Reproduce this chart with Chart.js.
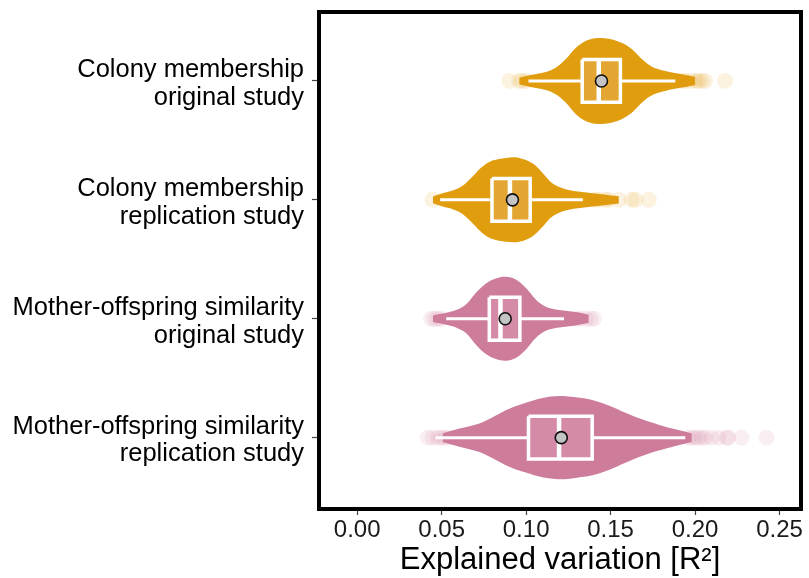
<!DOCTYPE html>
<html>
<head>
<meta charset="utf-8">
<script src="https://cdn.jsdelivr.net/npm/chart.js@4.4.1/dist/chart.umd.min.js"></script>
<style>
  html, body { margin: 0; padding: 0; background: #fff; }
  #wrap { width: 809px; height: 578px; }
</style>
</head>
<body>
<div id="wrap"><canvas id="violinChart" width="809" height="578"></canvas></div>
<script>
// Categories (top to bottom) and their positions on the y scale
const categories = [
    ["Colony membership", "original study"],
    ["Colony membership", "replication study"],
    ["Mother-offspring similarity", "original study"],
    ["Mother-offspring similarity", "replication study"],
];
const catPos = [1, 2, 3, 4];
const xTicks = [0, 0.05, 0.1, 0.15, 0.2, 0.25];

// Violin outlines: R² values and half-widths (in category units)
const colonyOrigX = [0.0959, 0.1018, 0.1116, 0.1175, 0.1234, 0.1293, 0.1352, 0.1411, 0.1489, 0.1568, 0.1627, 0.1686, 0.1745, 0.1824, 0.1922, 0.2001];
const colonyOrigW = [0.028, 0.048, 0.076, 0.112, 0.182, 0.277, 0.336, 0.359, 0.355, 0.319, 0.266, 0.182, 0.12, 0.084, 0.056, 0.034];
const colonyRepX = [0.0448, 0.0506, 0.0565, 0.0624, 0.0683, 0.0742, 0.0801, 0.088, 0.0959, 0.1037, 0.1096, 0.1155, 0.1234, 0.1332, 0.1431, 0.1549];
const colonyRepW = [0.028, 0.056, 0.078, 0.118, 0.196, 0.28, 0.33, 0.353, 0.353, 0.308, 0.229, 0.14, 0.09, 0.067, 0.05, 0.03];
const motherOrigX = [0.0448, 0.0527, 0.0585, 0.0644, 0.0703, 0.0762, 0.0821, 0.088, 0.0939, 0.0998, 0.1057, 0.1116, 0.1195, 0.1293, 0.1371];
const motherOrigW = [0.028, 0.05, 0.073, 0.12, 0.218, 0.297, 0.339, 0.353, 0.33, 0.26, 0.162, 0.101, 0.073, 0.056, 0.034];
const motherRepX = [0.0506, 0.0605, 0.0723, 0.0821, 0.09, 0.0998, 0.1096, 0.1195, 0.1293, 0.1391, 0.1489, 0.1588, 0.1686, 0.1784, 0.1883, 0.1981];
const motherRepW = [0.036, 0.076, 0.12, 0.187, 0.244, 0.294, 0.334, 0.35, 0.339, 0.317, 0.271, 0.21, 0.154, 0.109, 0.07, 0.036];

// Box plot statistics per category
const whiskerLo = [0.1014, 0.0491, 0.0527, 0.0463];
const q1 = [0.1332, 0.0798, 0.0782, 0.1014];
const median = [0.1430, 0.0904, 0.0848, 0.1195];
const q3 = [0.1558, 0.1024, 0.0963, 0.1391];
const whiskerHi = [0.1883, 0.1336, 0.1224, 0.1942];
const means = [0.1446, 0.0919, 0.0876, 0.1208];

// Outlying values per category
const colonyOrigOut = [0.0901, 0.0959, 0.0976, 0.1000, 0.1922, 0.1942, 0.1971, 0.2001, 0.2020, 0.2039, 0.2060, 0.2177];
const colonyRepOut = [0.0446, 0.1410, 0.1431, 0.1470, 0.1490, 0.1549, 0.1625, 0.1647, 0.1726];
const motherOrigOut = [0.0438, 0.0458, 0.0477, 0.0497, 0.1293, 0.1323, 0.1352, 0.1381, 0.1401];
const motherRepOut = [0.0418, 0.0448, 0.0477, 0.0497, 0.0517, 0.0536, 0.1961, 0.1981, 0.2001, 0.2020, 0.2040, 0.2060, 0.2098, 0.2138, 0.2187, 0.2197, 0.2275, 0.2423];

const violinX = [colonyOrigX, colonyRepX, motherOrigX, motherRepX];
const violinW = [colonyOrigW, colonyRepW, motherOrigW, motherRepW];
const outliers = [colonyOrigOut, colonyRepOut, motherOrigOut, motherRepOut];

// Styling
const FONT = "'Liberation Sans', Arial, sans-serif";
const violinColors = ["#E09D0E", "#E09D0E", "#CE7C9C", "#CE7C9C"];
const boxColors = ["#E3A633", "#E3A633", "#D58AA7", "#D58AA7"];
const outColors = ["rgba(224,157,14,0.13)", "rgba(224,157,14,0.13)", "rgba(206,124,156,0.13)", "rgba(206,124,156,0.13)"];
const boxHalf = 0.18;
const clear = "rgba(0,0,0,0)";

function line(points, color, width, order) {
    return { data: points, showLine: true, fill: false, borderColor: color, borderWidth: width,
             pointRadius: 0, tension: 0, order: order, borderCapStyle: "butt", borderJoinStyle: "miter" };
}

const datasets = [];
catPos.forEach((y, i) => {
    // violin: upper edge filled down to lower edge
    datasets.push({
        data: violinX[i].map((x, k) => ({ x: x, y: y - violinW[i][k] })),
        showLine: true, fill: "+1", backgroundColor: violinColors[i], borderColor: clear,
        borderWidth: 1, pointRadius: 0, tension: 0.35, order: 10,
    });
    datasets.push({
        data: violinX[i].map((x, k) => ({ x: x, y: y + violinW[i][k] })),
        showLine: true, fill: false, borderColor: clear, borderWidth: 1, pointRadius: 0, tension: 0.35, order: 10,
    });
    // outliers
    datasets.push({
        data: outliers[i].map((x) => ({ x: x, y: y })),
        showLine: false, pointRadius: 8, backgroundColor: outColors[i], borderWidth: 0, order: 8,
    });
    // box fill
    datasets.push({
        data: [{ x: q1[i], y: y - boxHalf }, { x: q3[i], y: y - boxHalf }],
        showLine: true, fill: { value: y + boxHalf }, backgroundColor: boxColors[i],
        borderColor: clear, borderWidth: 1, pointRadius: 0, order: 6,
    });
    // box outline
    datasets.push(line([
        { x: q1[i], y: y - boxHalf }, { x: q3[i], y: y - boxHalf }, { x: q3[i], y: y + boxHalf },
        { x: q1[i], y: y + boxHalf }, { x: q1[i], y: y - boxHalf },
    ], "#fff", 3.5, 5));
    // whiskers
    datasets.push(line([{ x: whiskerLo[i], y: y }, { x: q1[i], y: y }], "#fff", 3, 5));
    datasets.push(line([{ x: q3[i], y: y }, { x: whiskerHi[i], y: y }], "#fff", 3, 5));
    // median
    datasets.push(line([{ x: median[i], y: y - boxHalf }, { x: median[i], y: y + boxHalf }], "#fff", 4.5, 4));
    // mean
    datasets.push({
        data: [{ x: means[i], y: y }], showLine: false, pointRadius: 6,
        backgroundColor: "#C4C4C4", borderColor: "#111", borderWidth: 1.6, order: 1,
    });
});

// thick frame around the plot panel
const framePlugin = {
    id: "frame",
    afterDatasetsDraw(chart) {
        const { ctx, chartArea: a } = chart;
        ctx.save();
        ctx.strokeStyle = "#000";
        ctx.lineWidth = 4;
        ctx.strokeRect(a.left, a.top, a.right - a.left, a.bottom - a.top);
        ctx.restore();
    },
};

const ctx = document.getElementById("violinChart").getContext("2d");
new Chart(ctx, {
    type: "scatter",
    data: { datasets: datasets },
    plugins: [framePlugin],
    options: {
        responsive: false,
        animation: false,
        layout: { padding: { top: 12, right: 6, left: 0, bottom: 0 } },
        plugins: { legend: { display: false }, tooltip: { enabled: false } },
        scales: {
            x: {
                type: "linear",
                min: -0.0226,
                max: 0.2627,
                afterBuildTicks: (s) => { s.ticks = xTicks.map((v) => ({ value: v })); },
                afterFit: (s) => { s.height = 69; s.paddingLeft = 0; s.paddingRight = 0; },
                ticks: {
                    callback: (v) => v.toFixed(2),
                    font: { family: FONT, size: 24 },
                    color: "#1a1a1a",
                    padding: 1,
                    maxRotation: 0,
                },
                grid: { drawOnChartArea: false, tickLength: 6, tickColor: "#444", tickWidth: 1.2 },
                border: { display: false },
                title: {
                    display: true,
                    text: "Explained variation [R²]",
                    font: { family: FONT, size: 31, lineHeight: 1.1 },
                    color: "#000",
                    padding: 0,
                },
            },
            y: {
                type: "linear",
                reverse: true,
                min: 0.42,
                max: 4.6,
                afterBuildTicks: (s) => { s.ticks = catPos.map((v) => ({ value: v })); },
                afterFit: (s) => { s.width = 319; s.paddingTop = 0; s.paddingBottom = 0; },
                ticks: {
                    callback: (v) => categories[catPos.indexOf(v)],
                    font: { family: FONT, size: 25.5, lineHeight: 1.08 },
                    color: "#000",
                    padding: 8,
                    labelOffset: 3,
                    autoSkip: false,
                },
                grid: { drawOnChartArea: false, tickLength: 7, tickColor: "#444", tickWidth: 1.2 },
                border: { display: false },
            },
        },
    },
});
</script>
</body>
</html>
